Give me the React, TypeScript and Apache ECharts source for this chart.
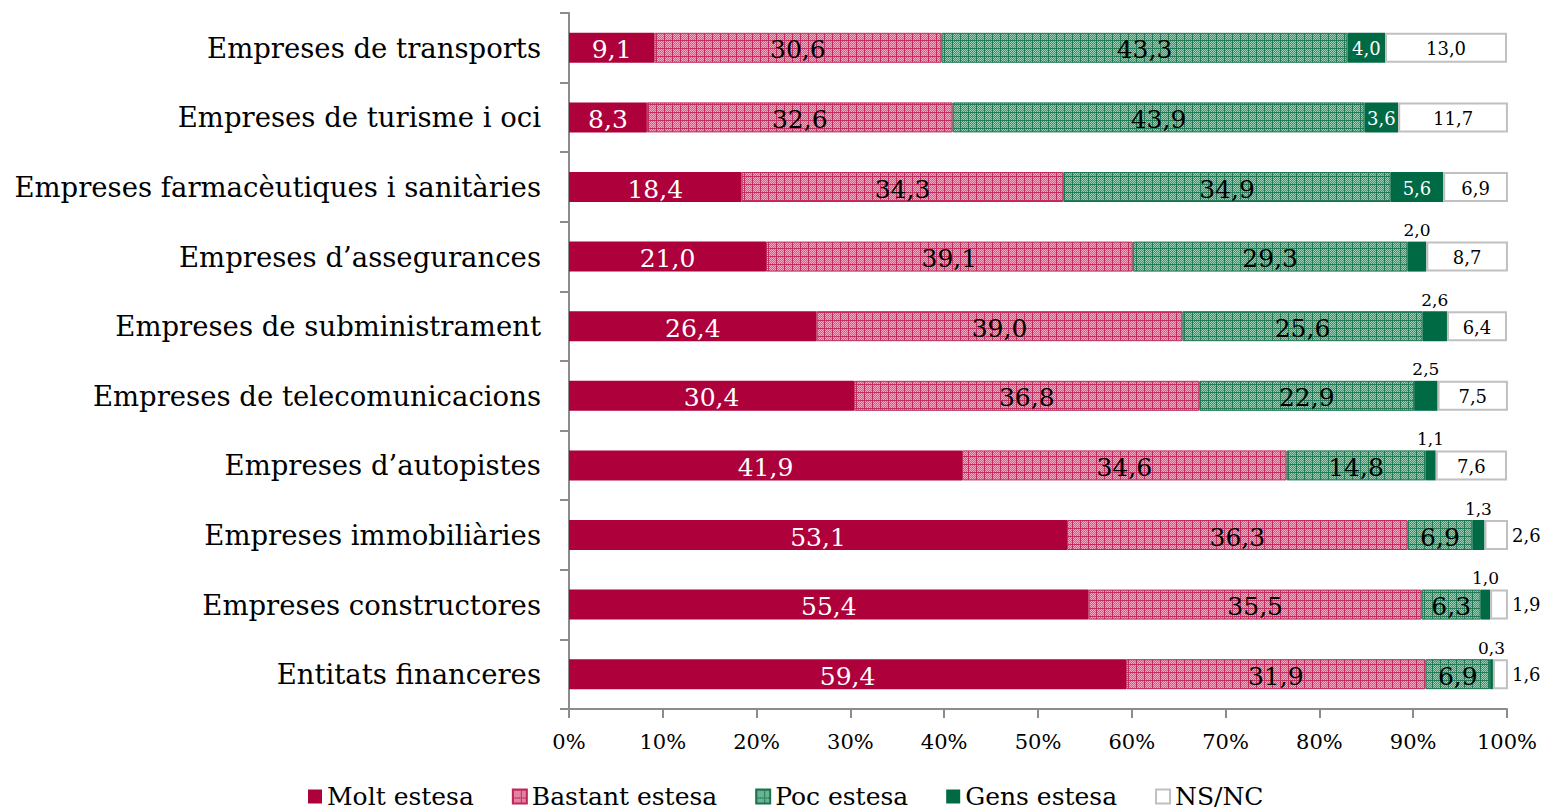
import React, { useEffect, useRef } from "react";
import * as echarts from "echarts";

const categories = [
  "Empreses de transports",
  "Empreses de turisme i oci",
  "Empreses farmacèutiques i sanitàries",
  "Empreses d’assegurances",
  "Empreses de subministrament",
  "Empreses de telecomunicacions",
  "Empreses d’autopistes",
  "Empreses immobiliàries",
  "Empreses constructores",
  "Entitats financeres",
];
const seriesNames = ["Molt estesa", "Bastant estesa", "Poc estesa", "Gens estesa", "NS/NC"];
const molt = [9.1, 8.3, 18.4, 21.0, 26.4, 30.4, 41.9, 53.1, 55.4, 59.4];
const bastant = [30.6, 32.6, 34.3, 39.1, 39.0, 36.8, 34.6, 36.3, 35.5, 31.9];
const poc = [43.3, 43.9, 34.9, 29.3, 25.6, 22.9, 14.8, 6.9, 6.3, 6.9];
const gens = [4.0, 3.6, 5.6, 2.0, 2.6, 2.5, 1.1, 1.3, 1.0, 0.3];
const nsnc = [13.0, 11.7, 6.9, 8.7, 6.4, 7.5, 7.6, 2.6, 1.9, 1.6];
const xTicks = [0, 10, 20, 30, 40, 50, 60, 70, 80, 90, 100];

const FONT = "DejaVu Serif";

function makePattern(base: string, mid: string, light: string) {
  const c = document.createElement("canvas");
  c.width = 8;
  c.height = 8;
  const ctx = c.getContext("2d")!;
  ctx.fillStyle = base;
  ctx.fillRect(0, 0, 8, 8);
  for (let y = 1; y < 8; y++) {
    for (let x = 1; x < 8; x++) {
      ctx.fillStyle = (x + y) % 2 === 0 ? light : mid;
      ctx.fillRect(x, y, 1, 1);
    }
  }
  return { image: c, repeat: "repeat" } as any;
}

const fmt = (v: number) => v.toFixed(1).replace(".", ",");

export default function App() {
  const ref = useRef<HTMLDivElement>(null);
  useEffect(() => {
    if (!ref.current) return;
    const chart = echarts.init(ref.current, undefined, { renderer: "svg" });
    const pinkPattern = makePattern("#c42a5e", "#d65a84", "#f2aac2");
    const greenPattern = makePattern("#1f7a55", "#3e9670", "#9ccdb4");

    const bigLabel = (color: string) => ({
      show: true,
      position: "inside",
      color,
      fontFamily: FONT,
      fontSize: 25,
      offset: [0, 2],
      formatter: (p: any) => fmt(p.value),
    });

    const gensData = gens.map((v) => ({
      value: v,
      label:
        v < 3
          ? { position: "top", color: "#000", fontSize: 17, distance: 3 }
          : { position: "inside", color: "#fff", fontSize: 18, offset: [0, 1] },
    }));
    const nsncData = nsnc.map((v) => ({
      value: v,
      label:
        v < 3
          ? { position: "right", color: "#000", fontSize: 18, distance: 4 }
          : { position: "inside", color: "#000", fontSize: 18, offset: [0, 1] },
    }));

    const option: any = {
      animation: false,
      textStyle: { fontFamily: FONT },
      grid: { left: 569, right: 36, top: 13, bottom: 102, containLabel: false },
      legend: {
        left: 303,
        top: 779,
        itemWidth: 14,
        itemHeight: 14,
        itemGap: 38,
        icon: "rect",
        textStyle: { fontFamily: FONT, fontSize: 25, color: "#000", padding: [0, 0, 0, 0] },
        data: seriesNames,
      },
      xAxis: {
        type: "value",
        min: xTicks[0],
        max: xTicks[xTicks.length - 1],
        interval: 10,
        axisLine: { show: true, lineStyle: { color: "#8c8c8c", width: 2 } },
        axisTick: { show: true, length: 9, lineStyle: { color: "#8c8c8c", width: 2 } },
        splitLine: { show: false },
        axisLabel: {
          formatter: "{value}%",
          fontFamily: FONT,
          fontSize: 21,
          color: "#000",
          margin: 22,
        },
      },
      yAxis: {
        type: "category",
        inverse: true,
        data: categories,
        axisLine: { show: true, lineStyle: { color: "#8c8c8c", width: 2 } },
        axisTick: { show: true, length: 9, lineStyle: { color: "#8c8c8c", width: 2 } },
        axisLabel: { fontFamily: FONT, fontSize: 27.5, color: "#000", margin: 28 },
      },
      series: [
        {
          name: seriesNames[0],
          type: "bar",
          stack: "t",
          barWidth: 30,
          data: molt,
          itemStyle: { color: "#ae003b" },
          label: bigLabel("#fff"),
        },
        {
          name: seriesNames[1],
          type: "bar",
          stack: "t",
          barWidth: 30,
          data: bastant,
          itemStyle: { color: pinkPattern, borderColor: "#c0285a", borderWidth: 1 },
          label: bigLabel("#000"),
        },
        {
          name: seriesNames[2],
          type: "bar",
          stack: "t",
          barWidth: 30,
          data: poc,
          itemStyle: { color: greenPattern, borderColor: "#1a744f", borderWidth: 1 },
          label: bigLabel("#000"),
        },
        {
          name: seriesNames[3],
          type: "bar",
          stack: "t",
          barWidth: 30,
          data: gensData,
          itemStyle: { color: "#006a44" },
          label: { show: true, fontFamily: FONT, formatter: (p: any) => fmt(p.value) },
        },
        {
          name: seriesNames[4],
          type: "bar",
          stack: "t",
          barWidth: 30,
          data: nsncData,
          itemStyle: { color: "#ffffff", borderColor: "#c0c0c0", borderWidth: 2 },
          label: { show: true, fontFamily: FONT, formatter: (p: any) => fmt(p.value) },
        },
      ],
    };
    chart.setOption(option);
    return () => chart.dispose();
  }, []);
  return (
    <div
      ref={ref}
      style={{ position: "fixed", left: 0, top: 0, width: 1543, height: 811, background: "#fff" }}
    />
  );
}
